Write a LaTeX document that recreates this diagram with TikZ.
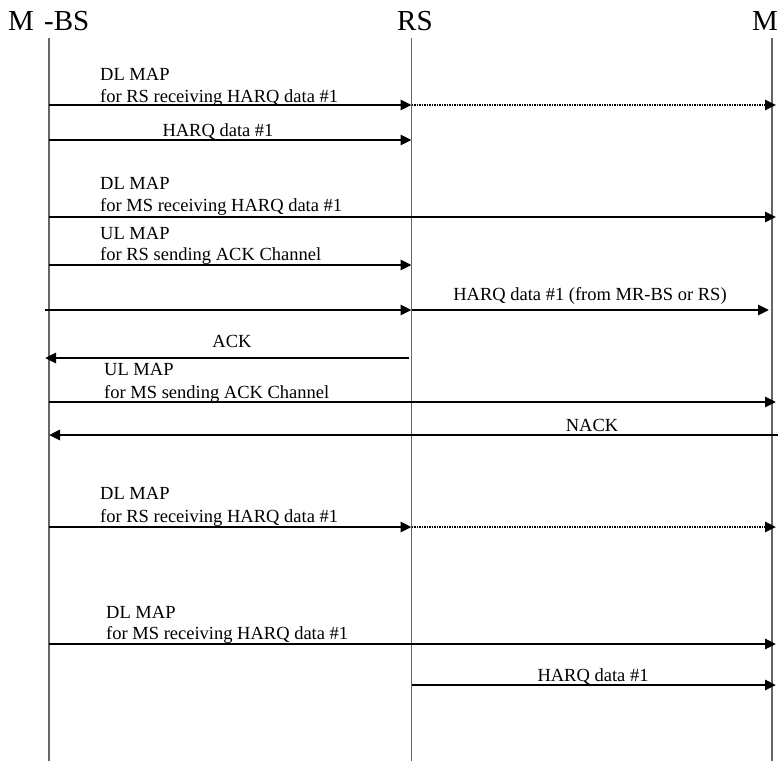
\documentclass[tikz,border=0pt]{standalone}
\usepackage{fontspec}
\setmainfont{Liberation Serif}
\usetikzlibrary{arrows.meta}
\tikzset{
  life/.style={draw=black!60, line width=1.2pt},
  msg/.style={line width=2.6pt, -{Triangle[length=11pt,width=10pt]}},
  dotmsg/.style={msg, dash pattern=on 1.6pt off 0.9pt},
  lbl/.style={font=\fontsize{18.5}{22}\selectfont, inner sep=0pt, anchor=base west},
  clbl/.style={lbl, anchor=base},
  head/.style={font=\fontsize{29}{32}\selectfont, inner sep=0pt, anchor=base west},
}
\begin{document}
\begin{tikzpicture}[x=1pt,y=-1pt]
\useasboundingbox (0,0) rectangle (778,761);
% headers
\node[head] (hbs) at (8,30) {M\hspace{0.35em}-BS};
\node[head] (hrs) at (397,30) {RS};
\node[head] (hms) at (752,30) {M};
% lifelines
\coordinate (bsT) at (49,38);  \coordinate (bsB) at (49,761);
\coordinate (rsT) at (411.5,38); \coordinate (rsB) at (411.5,761);
\coordinate (msT) at (772,38); \coordinate (msB) at (772,761);
\draw[life] (bsT) -- (bsB);
\draw[life] (rsT) -- (rsB);
\draw[life] (msT) -- (msB);
% 1
\coordinate (a1s) at (49,105); \coordinate (a1r) at (411.5,105); \coordinate (a1m) at (776,105);
\draw[msg] (a1s) -- (a1r);
\draw[dotmsg] (a1r) -- (a1m);
\node[lbl] (t1a) at (100,80) {DL MAP};
\node[lbl] (t1b) at (100,102) {for RS receiving HARQ data \#1};
% 2
\coordinate (a2s) at (49,140); \coordinate (a2r) at (411.5,140);
\draw[msg] (a2s) -- (a2r);
\node[clbl] (t2) at (218,136) {HARQ data \#1};
% 3
\coordinate (a3s) at (49,217); \coordinate (a3m) at (776,217);
\draw[msg] (a3s) -- (a3m);
\node[lbl] (t3a) at (100,189) {DL MAP};
\node[lbl] (t3b) at (100,211) {for MS receiving HARQ data \#1};
% 4
\coordinate (a4s) at (49,265); \coordinate (a4r) at (411.5,265);
\draw[msg] (a4s) -- (a4r);
\node[lbl] (t4a) at (100,239) {UL MAP};
\node[lbl] (t4b) at (100,260) {for RS sending ACK Channel};
% 5
\coordinate (a5s) at (45,310); \coordinate (a5r) at (411.5,310); \coordinate (a5m) at (769,310);
\draw[msg] (a5s) -- (a5r);
\draw[msg] (a5r) -- (a5m);
\node[clbl] (t5) at (590,300) {HARQ data \#1 (from MR-BS or RS)};
% 6
\coordinate (a6r) at (409,358); \coordinate (a6s) at (45,358);
\draw[msg] (a6r) -- (a6s);
\node[clbl] (t6) at (232,347) {ACK};
% 7
\coordinate (a7s) at (49,402); \coordinate (a7m) at (776,402);
\draw[msg] (a7s) -- (a7m);
\node[lbl] (t7a) at (104,375) {UL MAP};
\node[lbl] (t7b) at (104,398) {for MS sending ACK Channel};
% 8
\coordinate (a8m) at (778,435); \coordinate (a8s) at (49,435);
\draw[msg] (a8m) -- (a8s);
\node[clbl] (t8) at (592,431) {NACK};
% 9
\coordinate (a9s) at (49,527); \coordinate (a9r) at (411.5,527); \coordinate (a9m) at (776,527);
\draw[msg] (a9s) -- (a9r);
\draw[dotmsg] (a9r) -- (a9m);
\node[lbl] (t9a) at (100,499) {DL MAP};
\node[lbl] (t9b) at (100,522) {for RS receiving HARQ data \#1};
% 10
\coordinate (a10s) at (49,644); \coordinate (a10m) at (776,644);
\draw[msg] (a10s) -- (a10m);
\node[lbl] (t10a) at (106,618) {DL MAP};
\node[lbl] (t10b) at (106,639) {for MS receiving HARQ data \#1};
% 11
\coordinate (a11r) at (411.5,685); \coordinate (a11m) at (776,685);
\draw[msg] (a11r) -- (a11m);
\node[clbl] (t11) at (593,681) {HARQ data \#1};
\end{tikzpicture}
\end{document}
